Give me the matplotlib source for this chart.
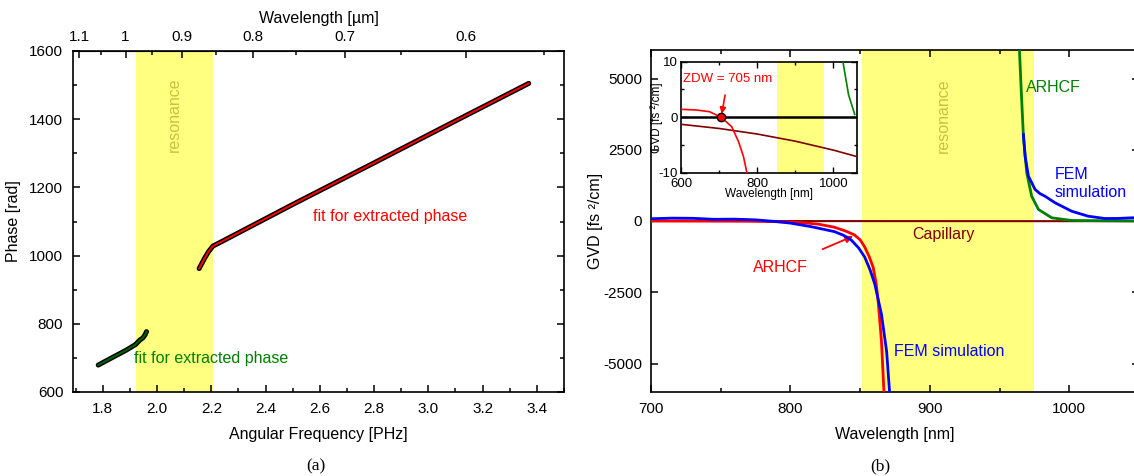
import numpy as np
import matplotlib
matplotlib.use("Agg")
import matplotlib.pyplot as plt
from matplotlib.ticker import FixedLocator, MultipleLocator

plt.rcParams['font.family'] = ['Liberation Sans', 'DejaVu Sans']
plt.rcParams['axes.unicode_minus'] = False

# ---------------- data: panel (a) ----------------
omega_lo = [1.783, 1.83, 1.887, 1.92, 1.936, 1.948, 1.955, 1.961]
phase_lo = [679, 699, 723, 739, 752, 759, 767, 777]
omega_hi = [2.155, 2.175, 2.19, 2.206, 2.25, 2.5, 2.8, 3.1, 3.37]
phase_hi = [962, 992, 1012, 1028, 1046, 1150, 1272, 1395, 1505]
res_omega = [1.922, 2.207]
top_ticks = [1.1, 1.0, 0.9, 0.8, 0.7, 0.6]
top_labels = ["1.1", "1", "0.9", "0.8", "0.7", "0.6"]
top_minor = [1.05, 0.95, 0.85, 0.75, 0.65, 0.55]

# ---------------- data: panel (b) ----------------
red_wl = [600, 640, 675, 705, 733, 751, 764, 773, 790, 807, 820, 831.5, 840,
          846, 850, 853.2, 856.5, 859.3, 861.5, 862.9, 865.3, 867.2]
red_gvd = [1.42, 1.3, 0.99, 0, -1.7, -4.4, -7.1, -10, -25, -53, -110, -218,
           -360, -491, -660, -905, -1250, -1618, -2200, -2803, -4225, -6120]
blue_wl_left = [700, 715, 730, 745, 760, 775, 790, 800, 815, 831.5, 838,
                843.6, 849, 853.2, 857, 860.5, 865.3, 869, 871.3]
blue_gvd_left = [80, 100, 95, 60, 65, 40, -20, -74, -200, -372, -500, -667,
                 -950, -1260, -1700, -2210, -3277, -4580, -6120]
blue_wl_right = [967.1, 968.3, 970.7, 975.5, 979, 982.6, 989.8, 1001.7,
                 1013.6, 1025.5, 1035, 1045, 1050]
blue_gvd_right = [3035, 2274, 1572, 1105, 960, 870, 639, 344, 168, 88, 90,
                  112, 110]
green_wl = [963.8, 965.5, 967.1, 969.5, 973, 977.9, 987.4, 1001.7, 1025,
            1040, 1056]
green_gvd = [6500, 4614, 2975, 1691, 870, 404, 112, 18, 10, 4, 0.5]
cap_wl = [600, 700, 800, 900, 1000, 1062]
cap_gvd = [-1.28, -2.03, -3.03, -4.32, -5.93, -7.1]
res_wl = [851, 975]
zdw = 705

YELLOW = '#FFFF80'
RESTXT = '#C4C43C'
DKRED = '#800000'
GREEN = '#008000'

W, H = 1134, 476
fig = plt.figure(figsize=(W / 100, H / 100), dpi=100)


def rect(l, t, r, b):
    return [l / W, 1 - b / H, (r - l) / W, (b - t) / H]


# ================= panel (a) =================
ax1 = fig.add_axes(rect(73, 51, 564, 392))
ax1.axvspan(res_omega[0], res_omega[1], color=YELLOW, lw=0, zorder=0)
ax1.plot(omega_lo, phase_lo, color='black', lw=3.6, solid_capstyle='round', zorder=2)
ax1.plot(omega_lo, phase_lo, color='#006400', lw=1.4, zorder=3)
ax1.plot(omega_hi, phase_hi, color='black', lw=3.6, solid_capstyle='round', zorder=2)
ax1.plot(omega_hi, phase_hi, color='red', lw=1.4, zorder=3)
ax1.set_xlim(1.69, 3.5)
ax1.set_ylim(600, 1600)
ax1.xaxis.set_major_locator(MultipleLocator(0.2))
ax1.xaxis.set_minor_locator(MultipleLocator(0.1))
ax1.yaxis.set_major_locator(MultipleLocator(200))
ax1.yaxis.set_minor_locator(MultipleLocator(100))
ax1.xaxis.set_major_formatter(matplotlib.ticker.FormatStrFormatter('%.1f'))
ax1.tick_params(which='both', direction='in', top=False, right=True,
                labelsize=11, width=1.1)
ax1.tick_params(which='major', length=5)
ax1.tick_params(which='minor', length=3)
ax1.tick_params(axis='x', pad=7)
ax1.tick_params(axis='y', pad=7)
for s in ax1.spines.values():
    s.set_linewidth(1.2)
ax1.set_xlabel('Angular Frequency [PHz]', fontsize=11.5, labelpad=8)
ax1.set_ylabel('Phase [rad]', fontsize=11.5, labelpad=6)

C = 1.8836


def w2l(w):
    w = np.asarray(w, dtype=float)
    return C / np.where(np.abs(w) < 1e-9, 1e-9, w)


sec = ax1.secondary_xaxis('top', functions=(w2l, w2l))
sec.set_xticks(top_ticks, labels=top_labels)
sec.xaxis.set_minor_locator(FixedLocator(top_minor))
sec.tick_params(which='both', direction='in', labelsize=11, width=1.1)
sec.tick_params(which='major', length=5, pad=5)
sec.tick_params(which='minor', length=3)
sec.set_xlabel('Wavelength [µm]', fontsize=11.5, labelpad=5)

ax1.text(2.065, 1412, 'resonance', rotation=90, color=RESTXT, fontsize=11.5,
         ha='center', va='center')
ax1.text(2.86, 1115, 'fit for extracted phase', color='red', fontsize=11.5,
         ha='center', va='center')
ax1.text(2.2, 699, 'fit for extracted phase', color=GREEN, fontsize=11.5,
         ha='center', va='center')
fig.text(316 / W, 1 - 466 / H, '(a)', family='Liberation Serif', fontsize=12.5,
         ha='center', va='center')

# ================= panel (b) =================
ax2 = fig.add_axes(rect(651, 50, 1139, 392))
ax2.axvspan(res_wl[0], res_wl[1], color=YELLOW, lw=0, zorder=0)
ax2.plot(cap_wl, cap_gvd, color=DKRED, lw=1.5, zorder=2)
ax2.plot(green_wl, green_gvd, color=GREEN, lw=2.0, zorder=3)
ax2.plot(red_wl, red_gvd, color='red', lw=2.0, zorder=3)
ax2.plot(blue_wl_left, blue_gvd_left, color='blue', lw=2.0, zorder=4)
ax2.plot(blue_wl_right, blue_gvd_right, color='blue', lw=2.0, zorder=4)
ax2.set_xlim(700, 1050)
ax2.set_ylim(-6000, 6000)
ax2.xaxis.set_major_locator(MultipleLocator(100))
ax2.xaxis.set_minor_locator(MultipleLocator(50))
ax2.set_yticks([-5000, -2500, 0, 2500, 5000])
ax2.tick_params(which='both', direction='in', top=True, right=True,
                labelsize=11, width=1.1)
ax2.tick_params(which='major', length=5)
ax2.tick_params(which='minor', length=3)
ax2.tick_params(axis='x', pad=7)
ax2.tick_params(axis='y', pad=6.5)
for s in ax2.spines.values():
    s.set_linewidth(1.2)
ax2.set_xlabel('Wavelength [nm]', fontsize=11.5, labelpad=8)
ax2.set_ylabel('GVD [fs ²/cm]', fontsize=11.5, labelpad=0)

ax2.text(910, 3700, 'resonance', rotation=90, color=RESTXT, fontsize=11.5,
         ha='center', va='center')
ax2.text(969, 4700, 'ARHCF', color=GREEN, fontsize=11.5, ha='left', va='center')
ax2.text(989.5, 1300, 'FEM\nsimulation', color='blue', fontsize=11.5,
         ha='left', va='center', linespacing=1.25)
ax2.text(910, -490, 'Capillary', color=DKRED, fontsize=11.5, ha='center', va='center')
ax2.text(914, -4580, 'FEM simulation', color='blue', fontsize=11.5,
         ha='center', va='center')
ax2.annotate('ARHCF', xy=(845, -530), xytext=(793, -1618), color='red',
             fontsize=11.5, ha='center', va='center',
             arrowprops=dict(arrowstyle='-|>', color='red', lw=1.3,
                             mutation_scale=11, shrinkA=14, shrinkB=0))
fig.text(880 / W, 1 - 466 / H, '(b)', family='Liberation Serif', fontsize=12.5,
         ha='center', va='center')

# ================= inset =================
ax3 = fig.add_axes(rect(681, 61.7, 857, 172.7))
ax3.set_facecolor('white')
ax3.axvspan(res_wl[0], res_wl[1], color=YELLOW, lw=0, zorder=0)
ax3.axhline(0, color='black', lw=1.8, zorder=2)
ax3.plot(cap_wl, cap_gvd, color=DKRED, lw=1.2, zorder=3)
ax3.plot(red_wl, red_gvd, color='red', lw=1.2, zorder=3)
ax3.plot(green_wl, green_gvd, color=GREEN, lw=1.2, zorder=3)
ax3.plot([zdw], [0], 'o', ms=6, mfc='red', mec='black', mew=1.0, zorder=5)
ax3.annotate('ZDW = 705 nm', xy=(zdw + 2, 0.6), xytext=(723, 6.8), color='red',
             fontsize=9.5, ha='center', va='center',
             arrowprops=dict(arrowstyle='-|>', color='red', lw=1.2,
                             mutation_scale=9, shrinkA=5, shrinkB=0))
ax3.set_xlim(600, 1062)
ax3.set_ylim(-10, 10)
ax3.set_xticks([600, 800, 1000])
ax3.xaxis.set_minor_locator(MultipleLocator(100))
ax3.set_yticks([-10, 0, 10])
ax3.yaxis.set_minor_locator(MultipleLocator(5))
ax3.tick_params(which='both', direction='in', top=True, right=True,
                labelsize=9.5, width=1.0, pad=2)
ax3.tick_params(axis='x', pad=3.5)
ax3.tick_params(which='major', length=4)
ax3.tick_params(which='minor', length=2.5)
for s in ax3.spines.values():
    s.set_linewidth(1.2)
ax3.set_xlabel('Wavelength [nm]', fontsize=8.5, labelpad=-1)
ax3.set_ylabel('GVD [fs ²/cm]', fontsize=8.5, labelpad=-3)

fig.savefig('out.png', dpi=100)
